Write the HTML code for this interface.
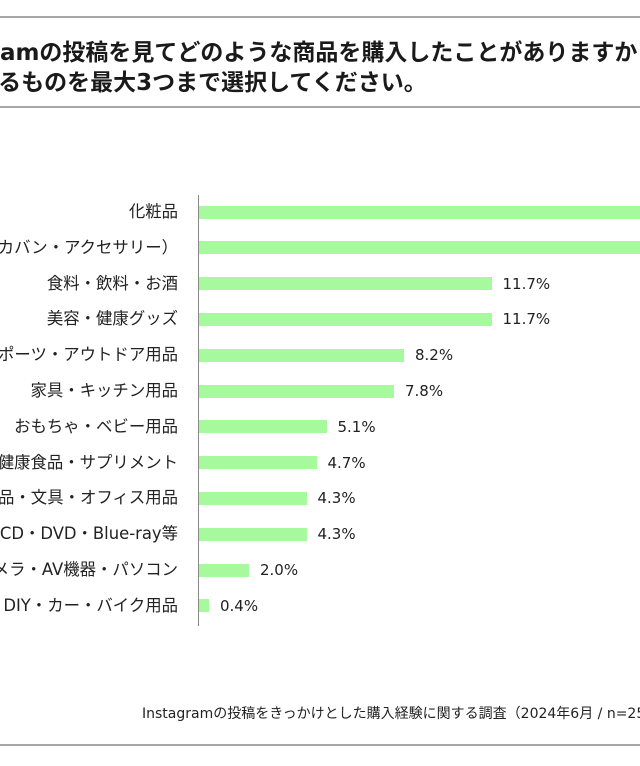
<!DOCTYPE html>
<html><head><meta charset="utf-8"><style>
body{margin:0;width:640px;height:766px;overflow:hidden;background:#fff;position:relative;font-family:"DejaVu Sans","Noto Sans CJK JP",sans-serif;color:#222}
.hr{position:absolute;left:0;width:640px;height:2px;background:#a6a6a6}
.t{position:absolute;left:-93px;font-size:23px;font-weight:bold;white-space:nowrap;color:#1a1a1a;line-height:30px}
.lab{position:absolute;right:462px;font-size:16.4px;white-space:nowrap;text-align:right;line-height:20px}
.bar{position:absolute;left:199px;height:13px;background:#a6f99c}
.v{position:absolute;font-size:15px;white-space:nowrap;line-height:20px}
</style></head><body>
<div class="hr" style="top:16px"></div>
<div class="t" style="top:38px">Instagramの投稿を見てどのような商品を購入したことがありますか？</div>
<div class="t" style="top:68px">あてはまるものを最大3つまで選択してください。</div>
<div class="hr" style="top:106px"></div>
<div style="position:absolute;left:198px;top:195px;width:1px;height:431px;background:#888"></div>
<div id="c"></div>
<div style="position:absolute;left:142px;top:703px;font-size:14px;white-space:nowrap">Instagramの投稿をきっかけとした購入経験に関する調査（2024年6月 / n=256）</div>
<div class="hr" style="top:744px"></div>
<script>
var d=[["化粧品",20],["ファッション（衣類・カバン・アクセサリー）",20],["食料・飲料・お酒",11.7],["美容・健康グッズ",11.7],["スポーツ・アウトドア用品",8.2],["家具・キッチン用品",7.8],["おもちゃ・ベビー用品",5.1],["健康食品・サプリメント",4.7],["日用品・文具・オフィス用品",4.3],["CD・DVD・Blue-ray等",4.3],["カメラ・AV機器・パソコン",2.0],["DIY・カー・バイク用品",0.4]];
var h="";d.forEach(function(r,i){var y=212+i*35.8;var w=r[1]*25;
h+='<div class="lab" style="top:'+(y-10)+'px">'+r[0]+'</div><div class="bar" style="top:'+(y-6.5)+'px;width:'+w+'px"></div>';
if(r[1]<15)h+='<div class="v" style="left:'+(199+w+11)+'px;top:'+(y-10)+'px">'+r[1].toFixed(1)+'%</div>';});
document.getElementById("c").innerHTML=h;
</script>
</body></html>
